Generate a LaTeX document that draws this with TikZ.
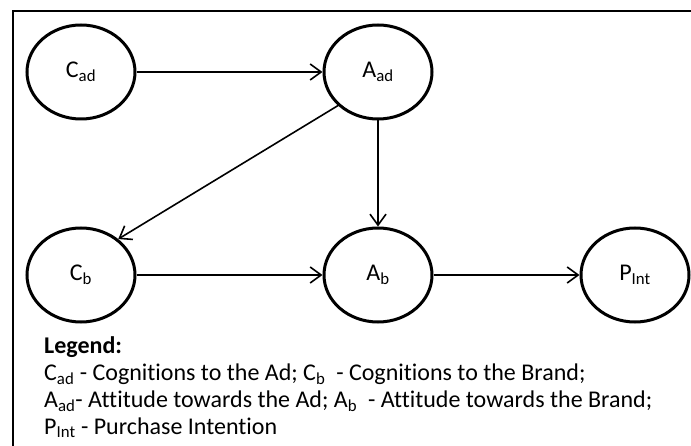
\documentclass[tikz,border=0pt]{standalone}
\usepackage{fontspec}
\setmainfont{Carlito}[Ligatures=NoCommon]
\usetikzlibrary{shapes.geometric,arrows.meta}
\newcommand{\lsub}[1]{\textsubscript{#1}}
\begin{document}
\begin{tikzpicture}[x=1pt,y=-1pt,
  var/.style={ellipse,draw,line width=3pt,minimum width=108pt,minimum height=94pt,
    inner sep=0pt,font=\fontsize{24}{29}\selectfont},
  link/.style={line width=1.6pt,-{Straight Barb[length=11pt,width=16pt,line width=1.6pt]}},
  legline/.style={anchor=base west,inner sep=0pt,font=\fontsize{24}{29}\selectfont}]
  \useasboundingbox (0,0) rectangle (691,446);
  % outer frame (top and left edges)
  \coordinate (fa) at (13,446);
  \coordinate (fb) at (13,11);
  \coordinate (fc) at (691,11);
  \draw[line width=1.6pt] (fa) -- (fb) -- (fc);
  % variables
  \node[var] (cad) at (81,72) {C\lsub{ad}};
  \node[var] (aad) at (378,72) {A\lsub{ad}};
  \node[var] (cb) at (81,275) {C\lsub{b}};
  \node[var] (ab) at (378,275) {A\lsub{b}};
  \node[var] (pint) at (635,275) {P\lsub{Int}};
  % paths
  \draw[link] (cad) -- (aad);
  \draw[link] (aad) -- (ab);
  \draw[link] (aad.220) -- (cb.44);
  \draw[link] (cb) -- (ab);
  \draw[link] (ab) -- (pint);
  % legend
  \node[legline] (lg0) at (44,353) {\bfseries Legend:};
  \node[legline] (lg1) at (44,380.5) {C\lsub{ad} - Cognitions to the Ad; C\lsub{b}\ \ - Cognitions to the Brand;};
  \node[legline] (lg2) at (44,407.5) {A\lsub{ad}- Attitude towards the Ad; A\lsub{b}\ \ - Attitude towards the Brand;};
  \node[legline] (lg3) at (44,434) {P\lsub{Int} - Purchase Intention};
\end{tikzpicture}
\end{document}
